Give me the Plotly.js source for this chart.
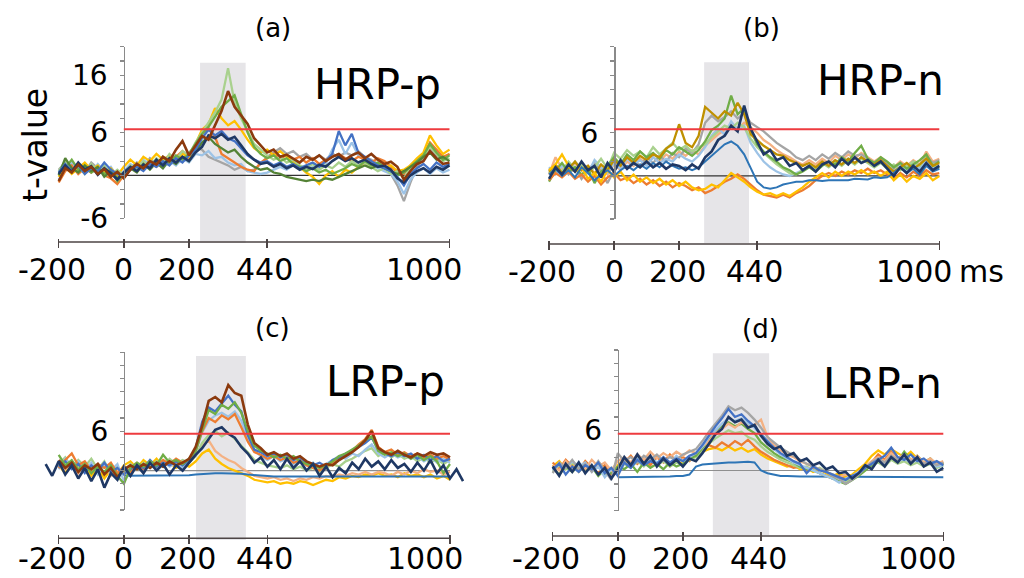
<!DOCTYPE html>
<html><head><meta charset="utf-8">
<script src="https://cdn.plot.ly/plotly-3.0.1.min.js"></script>
<style>html,body{margin:0;padding:0;background:#fff}#chart{width:1024px;height:578px}</style>
</head><body><div id="chart"></div>
<script>
// ---- time axes (ms) ----
const time = [-200,-180,-160,-140,-120,-100,-80,-60,-40,-20,0,20,40,60,80,100,120,140,160,180,200,220,240,260,280,300,320,340,360,380,400,420,440,460,480,500,520,540,560,580,600,620,640,660,680,700,720,740,760,780,800,820,840,860,880,900,920,940,960,980,1000];
const timeLong = [-240,-220,-200,-180,-160,-140,-120,-100,-80,-60,-40,-20,0,20,40,60,80,100,120,140,160,180,200,220,240,260,280,300,320,340,360,380,400,420,440,460,480,500,520,540,560,580,600,620,640,660,680,700,720,740,760,780,800,820,840,860,880,900,920,940,960,980,1000,1020,1040];
const timeFlat = [0,20,40,60,80,100,120,140,160,180,200,220,240,260,280,300,320,340,360,380,400,420,440,460,480,500,520,540,560,580,600,620,640,660,680,700,720,740,760,780,800,820,840,860,880,900,920,940,960,980,1000];

const xTickVals = [-200, 0, 200, 440, 1000];
const xTickText = ['-200', '0', '200', '440', '1000'];
const panelTitles = ['HRP-p', 'HRP-n', 'LRP-p', 'LRP-n'];
const panelLetters = ['(a)', '(b)', '(c)', '(d)'];
const bandA = [234, 374], bandB = [277, 415], bandC = [221, 374], bandD = [292, 465];
const thresholds = [6.45, 6.5, 5.6, 5.5];

// ---- (a) HRP-p ----
const aGray = [0.8,1.8,0.4,1.0,0.4,1.8,1.0,0.2,0.8,-0.6, 0.2,1.0,1.8,1.2,2.4,1.6,2.2,1.6,2.6,2.2, 3.2,4.0,3.6,2.6,2.2,1.8,1.4,0.8,1.2,0.6, 0.8,1.6,2.6,3.2,3.8,3.0,3.4,2.6,3.0,2.2, 2.8,2.2,3.0,2.6,3.2,2.8,3.4,2.6,2.2,1.6, 1.0,0.2,-1.4,-3.6,-1.0,1.2,2.4,3.6,2.8,2.2, 3.0];
const aLightBlue = [-0.6,0.8,1.8,0.6,1.4,0.4,1.6,0.6,1.2,-0.2, 0.6,1.6,1.0,2.2,1.4,1.8,1.0,2.0,1.4,2.4, 1.8,3.0,2.8,3.4,2.4,2.6,1.8,1.4,1.6,0.6, 0.4,0.2,0.4,0.8,1.2,0.8,1.4,1.0,0.6,1.2, 0.8,1.6,3.6,5.0,3.0,4.6,2.8,2.2,1.6,1.0, 0.6,0.2,-0.8,-2.6,-0.6,0.4,1.0,0.2,1.0,0.4, 0.8];
const aOrange = [-1.0,0.6,1.4,0.2,1.0,0.4,1.2,0.0,-0.4,-1.2, 0.0,0.8,1.4,0.8,1.8,1.2,2.2,1.6,2.6,3.4, 2.4,4.2,5.8,6.6,5.4,3.0,2.4,1.8,1.2,0.8, 0.6,1.8,2.4,3.0,2.4,2.8,2.2,2.6,1.8,2.4, 1.6,2.2,2.6,3.0,2.4,2.0,2.6,2.2,1.8,2.4, 2.0,1.2,0.4,0.2,1.4,2.2,3.0,4.6,3.6,2.6, 3.0];
const aGold = [-0.2,1.2,0.2,1.0,1.8,0.8,1.4,0.4,1.0,0.0, 1.2,2.2,1.4,2.6,2.0,3.0,2.2,2.8,2.0,3.0, 2.6,4.4,6.4,7.2,9.4,8.0,7.0,7.6,6.4,5.0, 3.8,3.2,3.6,2.8,3.4,2.6,2.0,1.2,0.4,-0.2, -1.2,0.0,0.6,-0.2,0.8,0.4,1.2,1.8,1.2,1.6, 1.0,1.4,0.6,0.8,1.4,2.4,3.2,5.6,4.2,3.0, 3.6];
const aLightGreen = [0.6,2.0,0.8,1.2,0.2,1.6,0.6,1.4,0.0,0.8, 0.0,1.4,0.8,2.0,1.2,2.4,1.6,3.0,2.2,3.4, 2.8,4.6,6.0,7.4,8.8,10.6,15.0,10.2,8.0,6.2, 4.4,3.6,2.8,2.2,2.6,1.8,2.2,1.4,1.0,1.6, 0.8,1.4,1.0,1.8,1.2,2.0,1.4,1.8,1.2,0.6, 1.0,0.2,0.6,-0.4,1.0,1.8,2.6,4.0,3.0,2.0, 2.4];
const aGreen = [0.4,1.0,2.2,0.8,1.2,0.4,1.0,0.2,0.8,-0.8, 0.2,0.8,1.6,1.0,2.0,1.4,2.6,1.8,2.8,2.2, 3.0,4.4,5.8,6.8,8.2,9.6,10.4,11.2,8.6,6.0, 4.0,3.0,2.4,2.8,2.0,2.4,1.6,1.2,0.6,1.0, 0.4,0.8,0.2,0.6,1.0,1.6,1.2,2.0,1.4,1.8, 1.2,0.6,0.0,0.4,1.2,2.0,2.8,4.4,3.2,2.2, 2.8];
const aDarkGreen = [0.0,2.4,1.0,0.4,1.4,0.6,1.2,-0.2,0.6,-0.4, 0.2,1.0,0.4,1.6,0.8,1.8,1.0,2.2,1.6,2.6, 2.0,3.4,4.6,5.4,4.4,3.8,3.2,3.6,2.6,1.8, 1.2,0.8,1.0,0.4,0.2,-0.2,-0.4,-0.6,-0.8,-0.6, -0.8,-0.4,-0.6,-0.2,0.2,0.6,1.0,1.4,1.0,1.4, 1.0,0.6,0.2,0.6,1.2,1.8,2.6,3.2,2.2,2.6, 2.0];
const aBlue = [0.4,1.6,0.6,1.4,0.2,1.0,0.6,1.8,0.8,0.2, -0.2,0.8,1.2,0.6,1.6,1.2,2.0,1.4,2.4,1.8, 2.8,3.6,5.2,6.4,5.6,6.2,5.2,4.8,3.8,2.8, 2.2,1.8,2.0,1.4,1.8,1.2,1.6,1.0,1.4,1.8, 1.2,2.0,3.0,6.2,4.2,5.8,3.2,2.6,2.0,1.4, 1.0,0.6,-0.2,-1.4,0.2,1.0,1.6,0.8,1.8,1.2, 1.6];
const aNavy = [0.2,1.4,0.5,1.8,0.8,1.3,0.1,1.0,0.3,-0.6, 0.4,1.2,0.6,1.5,1.0,2.2,1.4,2.4,1.8,2.6, 2.0,3.2,4.0,5.6,5.2,5.8,5.0,5.4,4.2,3.0, 2.2,1.6,1.8,1.2,1.6,1.0,1.4,0.8,1.2,0.9, 1.5,1.2,2.0,2.6,2.0,2.4,1.8,2.2,1.6,1.2, 1.4,0.8,-0.4,-1.0,0.0,0.6,1.0,0.4,1.2,0.8, 1.4];
const aBrown = [-0.8,1.0,0.4,1.5,0.6,1.2,0.2,0.9,-0.2,0.5, -0.4,0.8,1.6,1.0,2.0,1.5,2.6,2.0,3.6,4.8, 2.8,4.2,5.5,5.0,7.0,9.0,11.8,9.6,8.4,7.2, 5.2,4.2,3.2,3.6,2.6,2.9,2.4,1.8,2.6,2.2, 2.8,2.0,2.6,3.0,2.2,2.8,3.2,2.4,3.0,2.2, 1.6,1.9,1.2,-0.6,0.6,1.6,2.0,3.4,2.4,1.6, 1.8];

// ---- (b) HRP-n ----
const bLightOrange = [0.2,2.6,1.0,0.6,1.8,0.8,1.4,0.4,1.0,0.2, 1.6,0.8,2.0,1.4,2.4,1.6,2.6,2.0,3.0,2.4, 3.4,2.8,3.6,3.0,4.2,5.0,5.8,6.4,7.2,6.6, 7.4,6.8,6.0,5.0,4.4,3.6,3.0,2.6,2.0,1.6, 2.2,1.6,2.4,1.8,2.8,2.2,3.0,2.4,3.2,2.6, 2.0,2.6,1.8,1.2,2.0,1.4,2.2,1.6,3.4,2.0, 2.4];
const bGray = [1.0,0.4,1.6,0.2,1.2,-0.4,0.8,1.8,0.6,-1.0, 0.8,1.6,1.0,2.2,1.4,2.6,1.8,2.8,2.0,3.2, 2.6,3.8,3.2,4.4,7.4,8.4,7.6,8.2,9.0,8.0, 8.8,7.4,6.8,6.2,5.4,4.6,4.0,3.4,2.6,2.2, 2.8,2.2,3.0,2.4,3.2,2.6,3.4,2.8,3.0,2.4, 1.8,2.4,1.6,1.0,1.8,1.2,2.0,1.4,2.8,1.8, 2.2];
const bLightBlue = [1.2,0.2,1.4,0.8,2.0,1.0,0.4,2.2,1.2,0.4, 1.8,1.0,2.4,1.6,2.2,1.4,2.6,1.8,2.4,2.0, 3.0,2.4,2.0,2.8,4.0,5.6,6.6,5.8,7.6,6.4, 7.0,4.6,3.2,2.0,1.2,0.6,0.2,0.0,0.4,0.8, 1.4,1.0,1.8,1.4,2.2,1.6,2.4,1.8,2.6,2.0, 1.4,2.0,1.2,0.6,1.4,0.8,1.6,1.0,2.2,1.2, 1.6];
const bLightGreen = [0.4,1.4,0.6,2.0,1.0,1.6,0.4,1.2,2.4,1.0, 3.2,2.4,3.6,2.8,3.4,2.6,4.0,3.0,3.8,4.6, 3.6,4.2,3.4,4.0,4.4,5.4,6.2,7.0,6.6,7.4, 6.8,5.2,4.0,3.2,2.4,1.6,1.0,0.4,0.2,0.8, 1.4,1.0,1.8,1.2,2.0,1.4,2.2,1.6,2.4,1.8, 1.2,1.8,1.0,1.6,0.8,1.4,2.0,1.4,2.6,1.6, 1.0];
const bGreen = [-0.8,0.8,1.8,0.6,1.2,0.2,1.0,-1.0,0.6,1.4, 2.6,1.6,3.0,2.2,3.4,2.6,3.2,2.4,3.6,3.0, 4.0,3.4,2.8,3.6,4.8,6.4,7.0,8.0,11.2,8.6, 9.4,6.4,4.4,3.4,2.6,2.0,1.2,0.8,0.2,0.6, 1.2,0.6,1.4,2.0,1.6,2.6,2.0,3.2,4.2,2.4, 1.8,2.6,2.0,1.2,1.8,1.0,1.6,2.2,3.0,1.4, 2.0];
const bDarkGold = [0.6,1.6,0.4,1.0,2.0,0.8,1.4,0.2,1.6,0.8, 2.2,1.4,2.6,1.8,2.8,2.2,3.0,2.6,3.8,4.4, 7.2,4.6,4.0,5.6,9.6,8.8,8.0,9.0,8.4,10.2, 8.6,5.8,5.0,4.2,3.6,3.0,2.8,2.2,1.8,1.4, 1.8,1.2,2.0,1.4,2.2,1.6,2.4,1.8,2.6,2.0, 1.6,2.2,1.4,0.6,1.2,1.8,1.0,1.6,2.4,1.4, 1.8];
const bOrange = [-0.6,0.4,-0.2,0.6,-0.4,0.2,-0.8,0.0,-1.2,-0.2, 0.4,-0.6,-0.2,-1.0,-0.4,-1.2,-0.6,-1.4,-0.8,-1.6, -1.0,-1.4,-2.0,-1.6,-2.4,-2.0,-1.4,-0.8,-0.4,0.2, -0.4,-1.2,-2.0,-2.6,-2.8,-3.0,-2.6,-3.0,-2.4,-2.0, -1.4,-0.6,0.0,0.4,0.0,0.6,0.2,0.8,0.4,1.0, 0.4,0.8,0.2,-0.4,0.4,-0.2,0.6,0.0,0.8,0.2, 0.4];
const bYellow = [0.8,1.6,3.0,1.4,0.6,1.2,-0.4,0.4,-0.8,0.8, -0.2,0.6,-0.6,0.2,-0.8,-0.2,-1.0,-0.4,-1.2,-0.6, -1.4,-0.8,-1.6,-2.0,-1.8,-1.2,-1.6,-0.6,0.4,-0.2, -0.8,-1.6,-2.2,-2.6,-2.4,-2.8,-2.4,-2.8,-2.2,-1.6, -0.8,-0.2,0.4,-0.2,0.6,0.0,0.6,0.2,0.8,0.2, 0.6,0.0,0.6,-0.6,0.2,-0.8,0.0,-0.4,0.4,-0.6, 0.0];
const bSteelBlue = [0.2,1.0,0.0,0.8,-0.2,1.2,0.4,-0.6,0.2,0.8, 0.0,0.8,1.4,0.8,1.6,1.0,1.8,1.2,2.0,1.4, 1.0,1.2,0.8,1.2,2.0,2.8,3.6,4.4,4.8,4.2, 3.0,1.2,-0.8,-1.6,-1.8,-1.6,-1.2,-1.0,-0.8,-0.8, -0.6,-0.6,-0.7,-0.6,-0.6,-0.5,-0.6,-0.4,-0.4,-0.5, -0.2,-0.3,-0.2,0.4,1.2,0.4,1.0,0.2,1.4,0.6, 1.0];
const bNavy = [-0.4,1.2,0.2,1.6,0.6,2.0,0.8,1.4,-0.2,1.8, 0.6,2.2,1.0,1.8,1.2,2.0,1.2,1.8,1.0,1.6, 1.4,0.8,1.6,1.0,2.6,3.4,5.0,5.6,7.0,6.2, 9.8,6.6,4.8,3.0,3.6,2.2,2.6,1.4,1.8,0.8, 1.4,0.6,1.6,2.0,1.2,2.4,1.6,2.6,1.8,2.2, 1.4,2.0,1.0,0.0,1.2,0.4,1.4,0.6,1.8,0.8, 1.4];

// ---- (c) LRP-p ----
const cGold = [0.8,-0.4,1.2,0.0,0.6,-0.8,0.4,-1.2,0.2,-0.6, 0.8,1.4,0.4,1.6,0.8,1.8,0.6,1.2,0.4,1.0, 0.6,1.4,2.6,3.2,1.8,1.0,0.4,0.0,-0.4,-0.8, -1.4,-1.6,-1.8,-1.6,-2.0,-1.8,-2.0,-1.6,-1.8,-2.2, -1.8,-1.4,-1.6,-1.0,-1.2,-0.8,-1.0,-0.6,-0.8,-0.4, -0.8,-0.6,-1.0,-0.4,-0.8,-0.6,-1.0,-0.6,-1.2,-0.8, -1.4];
const cLightOrange = [1.4,0.2,1.0,-0.4,1.2,0.4,-0.2,0.8,-0.8,0.2, -0.2,0.6,1.2,0.2,1.0,0.4,1.4,0.8,1.6,0.6, 1.2,2.4,3.8,4.6,3.0,2.2,1.6,1.2,0.4,-0.2, -0.8,-1.0,-1.2,-1.0,-1.4,-1.2,-1.6,-1.2,-1.4,-1.0, -1.2,-0.8,-1.0,-0.6,-0.8,-0.4,-0.6,-0.2,-0.6,-0.2, -0.4,-0.8,-0.2,-0.6,0.0,-0.4,0.2,-0.2,0.0,-0.6, -0.2];
const cSteelBlue = [-0.8,-0.8,-0.7,-0.8,-0.8,-0.7,-0.8,-0.8,-0.7,-0.8, -0.7,-0.6,-0.5,-0.5,-0.4,-0.4,-0.4,-0.5,-0.5,-0.6, -0.7,-0.8,-0.8,-0.9,-0.9,-0.9,-0.9,-0.9,-0.9,-0.9, -0.9,-0.9,-0.9,-0.9,-0.9,-0.9,-0.9,-0.9,-0.9,-0.9, -0.9,-0.9,-0.9,-0.9,-0.9,-0.9,-0.9,-0.9,-0.9,-0.9, -0.9];
const cLightGreen = [1.0,2.0,0.4,1.6,0.6,1.8,0.2,1.4,-0.6,0.6, -0.4,1.0,0.2,1.2,0.4,1.4,0.6,1.8,1.0,1.6, 1.2,2.2,4.2,5.4,6.0,5.2,5.8,4.8,3.8,2.8, 1.6,1.2,0.8,0.6,0.4,0.8,0.2,0.6,0.0,0.4, -0.2,0.4,1.0,0.6,1.4,1.8,2.4,3.0,3.4,2.2, 2.8,2.0,2.6,1.8,2.2,1.4,2.0,1.2,1.8,1.0, 1.6];
const cLightBlue = [0.2,1.8,0.6,1.4,0.0,1.2,-0.6,0.8,0.0,1.0, -1.6,0.0,0.8,-0.2,1.0,0.2,1.4,0.6,1.2,0.4, 1.4,2.8,5.8,7.6,8.4,8.8,8.2,9.0,7.6,4.8, 3.0,2.2,1.6,2.2,1.4,1.8,1.0,1.6,0.8,1.2, 0.4,1.0,1.6,2.2,1.8,2.6,2.2,3.2,4.0,2.6, 2.0,2.6,2.0,2.4,1.8,2.2,1.4,2.0,1.2,1.8, 1.2];
const cOrange = [0.4,1.6,2.6,0.8,1.4,0.0,1.0,0.4,1.2,-0.4, 0.6,-0.2,0.8,0.2,1.2,0.6,1.6,1.0,1.8,1.2, 1.6,3.0,6.0,8.0,7.4,8.4,7.8,8.6,6.6,4.4, 2.8,2.4,1.8,2.2,1.6,2.0,1.2,1.6,0.8,0.4, 0.0,0.6,1.2,1.8,2.4,3.0,4.0,4.8,6.2,3.6, 2.8,3.2,2.4,2.8,2.2,2.6,2.0,2.4,1.8,2.2, 1.6];
const cBlue = [0.6,1.4,0.2,1.0,-0.4,0.8,0.0,1.2,-0.2,0.4, -0.6,0.2,1.0,0.4,1.6,0.6,1.2,0.8,1.4,0.8, 1.6,3.4,7.4,9.6,9.0,10.2,11.4,10.0,9.0,5.4, 3.2,2.8,2.2,2.6,2.0,2.4,1.6,2.0,1.2,0.8, 1.2,0.6,1.6,2.0,2.6,3.0,3.6,4.2,5.0,3.2, 2.6,2.2,2.8,2.2,2.6,1.8,2.4,1.6,2.2,1.4, 1.8];
const cGreen = [2.4,0.8,1.6,0.2,1.0,-0.4,0.6,-0.2,0.8,-0.8, -2.0,0.4,1.2,0.6,1.4,0.8,2.4,1.2,1.6,1.0, 1.8,3.0,6.2,9.2,8.6,10.0,9.4,10.4,8.8,6.0, 3.8,3.0,2.6,2.0,2.4,1.8,2.2,1.4,1.0,0.8, 0.4,0.8,1.4,2.2,2.6,3.2,3.8,4.6,5.2,3.0, 2.4,2.8,2.2,2.6,1.8,2.4,1.6,2.2,1.4,-0.4, 1.0];
const cBrown = [1.6,0.4,1.2,-0.2,0.8,0.2,1.0,-0.6,0.4,-1.0, 0.2,0.8,0.2,1.0,0.4,1.2,0.6,1.4,0.8,1.2, 1.8,3.6,6.8,10.6,11.2,10.4,13.0,11.8,11.4,7.0, 4.2,3.4,2.4,2.8,2.2,2.6,1.8,2.2,1.4,1.0, 0.6,1.0,0.8,1.6,2.2,2.8,3.6,4.6,6.0,3.4, 2.8,2.4,3.0,2.4,2.0,2.6,2.2,2.8,2.4,2.6, 2.0];
const cNavy = [1.0,-0.8, 1.4,-0.6,0.8,-1.2,0.4,-1.6,0.2,-2.6,-0.4,-1.4, 0.6,-0.8,0.8,-0.4,1.2,0.0,1.0,-0.6,0.8,0.0, 1.2,2.4,3.4,4.8,6.2,6.6,5.6,5.0,3.6,2.6, 1.2,2.0,0.6,1.6,0.2,1.8,0.4,1.4,0.0,1.0, -0.8,0.6,-1.0,0.4,-0.4,1.2,0.2,1.8,0.6,1.4, 0.2,1.6,0.4,1.0,-0.2,1.2,0.0,1.6,-0.4,0.8, -1.2, 0.2,-1.6];

// ---- (d) LRP-n ----
const dSteelBlue = [-1.0,-1.0,-0.9,-1.0,-1.0,-0.9,-1.0,-0.9,-0.9,-0.8, -0.8,-0.6,0.6,0.9,1.0,1.0,1.1,1.2,1.2,1.3, 1.3,1.2,0.0,-0.4,-0.6,-0.8,-0.8,-0.9,-0.9,-0.9, -0.9,-0.9,-1.0,-1.0,-1.0,-1.0,-1.0,-0.9,-0.9,-0.9, -0.9,-0.9,-0.9,-0.9,-0.9,-0.9,-1.0,-1.0,-1.0,-1.0, -1.0];
const dGold = [0.6,1.4,0.2,1.0,-0.2,0.8,0.2,1.2,0.4,-0.6, 0.8,1.6,0.8,2.0,1.2,1.8,0.8,1.6,0.6,1.4, 1.0,1.6,2.2,2.8,3.2,3.4,3.0,3.6,3.0,3.4, 2.8,3.2,2.4,1.8,1.4,1.0,0.6,0.8,0.2,0.4, -0.2,0.2,-0.4,-0.8,-0.4,-1.0,-0.6,0.2,1.0,2.2, 3.0,2.4,3.2,2.6,2.0,2.8,1.8,1.0,1.6,0.6, 1.0];
const dOrange = [1.2,0.2,1.6,0.6,0.0,1.4,0.4,-0.4,0.8,-1.0, 0.4,1.2,2.2,1.0,1.8,0.8,2.0,1.2,2.4,1.4, 2.0,1.4,2.4,3.0,3.8,3.4,4.2,3.6,4.4,3.8, 4.6,3.6,2.8,2.2,1.6,1.2,0.8,0.4,0.6,0.0, 0.2,-0.4,-0.8,-1.2,-0.8,-1.4,-1.0,-0.4,0.4,1.2, 2.4,1.6,2.8,1.8,2.2,1.4,2.0,1.0,1.6,0.8, 1.2];
const dLightGreen = [-0.2,0.8,0.2,1.2,0.4,1.0,0.0,0.8,-0.6,0.4, 0.0,1.0,0.4,1.4,0.6,1.6,0.8,1.4,0.6,1.2, 0.8,1.6,2.0,3.0,4.0,4.8,5.4,6.0,5.6,5.8, 5.0,4.6,3.6,2.8,2.2,1.6,1.2,0.8,0.4,0.6, 0.0,0.4,-0.2,-0.6,-1.0,-1.6,-1.2,-0.6,0.2,0.8, 1.2,0.6,1.6,1.0,1.4,0.8,1.2,0.6,1.0,0.4, 0.8];
const dGreen = [0.4,-0.6,0.6,-0.2,0.8,0.0,0.6,-0.8,0.2,-0.4, 0.6,0.2,1.0,-0.2,1.2,0.4,1.0,0.2,1.2,0.6, 1.0,1.8,2.2,3.4,4.6,5.8,6.6,7.2,6.6,7.0, 6.2,5.6,4.2,3.4,2.6,2.0,1.6,1.2,0.6,0.2, 0.0,-0.4,-0.8,-1.2,-1.6,-2.0,-1.4,-0.8,0.0,0.8, 1.6,1.0,2.0,1.4,2.8,1.6,2.2,1.2,1.8,0.8, 1.2];
const dLightOrange = [0.8,0.0,1.4,0.4,1.0,0.2,1.6,0.6,1.2,0.0, 1.4,2.0,1.2,2.4,1.6,2.8,1.8,2.6,2.0,2.8, 2.2,3.0,2.6,3.6,4.4,5.6,6.2,7.0,6.4,7.2, 6.6,6.8,7.6,5.0,3.8,3.0,2.4,2.0,1.4,1.0, 0.6,0.2,-0.2,-0.6,-1.0,-0.6,-1.0,-0.2,0.6,1.4, 2.0,1.4,2.6,1.8,2.4,1.6,2.2,1.2,1.8,1.0, 1.4];
const dLightBlue = [0.0,1.0,0.4,1.4,0.6,1.2,-0.2,0.6,-1.0,0.2, -0.4,1.2,0.6,1.8,1.0,2.0,1.2,1.8,1.0,2.2, 1.4,2.0,2.6,3.6,5.0,6.0,7.0,7.8,7.4,7.8, 7.0,6.4,5.2,4.0,3.2,2.4,1.8,1.2,0.8,0.4, 0.0,-0.4,-0.8,-1.2,-1.8,-1.2,-0.8,-0.2,0.4,1.0, 1.6,1.0,2.0,1.4,1.8,1.2,1.6,0.8,1.2,0.6, 0.8];
const dGray = [-0.4,1.2,0.4,1.6,0.2,1.0,-0.2,1.4,0.0,-1.4, 2.6,1.4,2.0,1.2,2.2,1.6,2.4,1.4,2.0,1.6, 2.4,2.8,3.2,4.4,5.8,7.0,8.2,9.6,9.0,9.4, 8.6,7.6,6.4,5.0,4.2,3.4,2.8,2.2,1.6,1.0, 0.6,0.2,-0.2,-0.8,-1.2,-2.0,-1.4,-0.6,0.4,1.2, 1.8,1.2,2.2,1.6,2.0,1.4,1.8,1.0,1.4,0.8, 1.2];
const dBlue = [0.2,1.0,-0.6,0.6,-0.2,0.8,0.2,1.2,-0.4,0.4, -0.8,1.2,0.4,1.6,0.8,1.4,1.0,2.0,1.2,1.8, 1.4,2.2,2.6,3.8,5.2,6.6,7.8,9.2,8.0,8.4, 7.4,6.6,5.4,4.4,3.4,2.6,2.0,1.4,1.0,-0.4, 0.6,0.0,-0.2,-0.6,-1.0,-1.4,-0.8,-0.4,0.4,1.0, 1.6,2.2,3.4,2.0,1.6,2.4,1.4,1.8,1.0,1.4, 0.8];
const dNavy = [0.6,-0.8,1.0,-0.2,1.2,-0.4,0.8,-0.6,0.4,-1.2, 0.2,2.0,0.8,2.4,1.0,2.2,0.6,1.8,0.8,1.6, 0.6,1.8,1.4,2.6,4.0,5.4,6.2,8.0,7.2,7.6, 6.4,6.8,5.2,4.0,3.2,3.6,2.2,2.6,1.4,1.8, 0.8,1.2,0.2,0.6,-0.4,-0.2,-1.2,-0.4,0.8,0.2, 1.6,0.6,2.0,1.2,2.4,1.0,2.0,0.6,1.2,-0.2, 0.4];

// ---- styling ----
const C = {navy:'#1F3864', brown:'#8B3A0E', darkgreen:'#548235', green:'#70AD47', lightgreen:'#A9D18E',
  lightblue:'#9DC3E6', blue:'#4472C4', steelblue:'#2E75B6', gold:'#FFC000', darkgold:'#BF9000',
  orange:'#ED7D31', lightorange:'#F4B183', gray:'#A5A5A5'};

const panels = [
  {xa:'x', ya:'y', series:[[time,aGray,'gray'],[time,aLightBlue,'lightblue'],[time,aOrange,'orange'],[time,aGold,'gold'],[time,aLightGreen,'lightgreen'],[time,aGreen,'green'],[time,aDarkGreen,'darkgreen'],[time,aBlue,'blue'],[time,aNavy,'navy'],[time,aBrown,'brown']]},
  {xa:'x2', ya:'y2', series:[[time,bLightOrange,'lightorange'],[time,bGray,'gray'],[time,bLightBlue,'lightblue'],[time,bLightGreen,'lightgreen'],[time,bGreen,'green'],[time,bDarkGold,'darkgold'],[time,bOrange,'orange'],[time,bYellow,'gold'],[time,bSteelBlue,'steelblue'],[time,bNavy,'navy']]},
  {xa:'x3', ya:'y3', series:[[time,cGold,'gold'],[time,cLightOrange,'lightorange'],[timeFlat,cSteelBlue,'steelblue'],[time,cLightGreen,'lightgreen'],[time,cLightBlue,'lightblue'],[time,cOrange,'orange'],[time,cBlue,'blue'],[time,cGreen,'green'],[time,cBrown,'brown'],[timeLong,cNavy,'navy']]},
  {xa:'x4', ya:'y4', series:[[timeFlat,dSteelBlue,'steelblue'],[time,dGold,'gold'],[time,dOrange,'orange'],[time,dLightGreen,'lightgreen'],[time,dGreen,'green'],[time,dLightOrange,'lightorange'],[time,dLightBlue,'lightblue'],[time,dGray,'gray'],[time,dBlue,'blue'],[time,dNavy,'navy']]}
];

const traces = [];
panels.forEach(p => p.series.forEach(([xs, ys, c]) => {
  const w = (c==='navy'||c==='brown') ? 2.6 : (c==='steelblue' ? 2.0 : 2.3);
  traces.push({type:'scatter', mode:'lines', x:xs, y:ys, xaxis:p.xa, yaxis:p.ya,
    line:{color:C[c], width:w}, hoverinfo:'skip', showlegend:false});
}));

const FONT = 'DejaVu Sans';
const AX = '#4d4545', YAX = '#8a8a8a';
// geometry per panel (paper fractions)
const geo = [
  {xd:[0.04143,0.45486], yd:[0.62232,0.91920], ypos:0.12090, xpos:0.58910, line:0.58131, lab:0.53460, lanc:'middle', band:bandA, by:[0.57958,0.89152]},
  {xd:[0.52025,0.93317], yd:[0.62111,0.91920], ypos:0.59961, xpos:0.58564, line:0.57785, lab:0.53114, lanc:'middle', band:bandB, by:[0.57958,0.89221]},
  {xd:[0.04141,0.45537], yd:[0.11765,0.39048], ypos:0.12100, xpos:0.07647, line:0.06869, lab:0.0, lanc:'bottom', band:bandC, by:[0.06574,0.38408]},
  {xd:[0.52385,0.93709], yd:[0.11644,0.39446], ypos:0.60332, xpos:0.08045, line:0.07266, lab:0.0, lanc:'bottom', band:bandD, by:[0.07439,0.38875]}
];
const ids = ['', '2', '3', '4'];
const layout = {width:1024, height:578, margin:{l:0,r:0,t:0,b:0}, paper_bgcolor:'#fff', plot_bgcolor:'rgba(0,0,0,0)',
  showlegend:false, font:{family:FONT, color:'#000'}, shapes:[], annotations:[]};
const labShift = [-7, 0, -2, -3, -25];
geo.forEach((g, i) => {
  const xk = 'xaxis'+ids[i], yk = 'yaxis'+ids[i], xr = 'x'+ids[i], yr = 'y'+ids[i];
  layout[xk] = {domain:g.xd, range:[-250,1050], anchor:'free', position:g.xpos, showline:false, showgrid:false, zeroline:false,
    tickmode:'array', tickvals:xTickVals, ticks:'outside', ticklen:9, tickwidth:1.5, tickcolor:AX, showticklabels:false, fixedrange:true};
  const yt = i===0 ? [-6, 6] : [6];
  layout[yk] = {domain:g.yd, range:[-6,18], anchor:'free', position:g.ypos, side:'left', showline:true, linecolor:YAX, linewidth:1.5,
    showgrid:false, zeroline:false, tickmode:'array', tickvals:yt, ticktext:yt.map(String), ticks:'outside', ticklen:4, tickwidth:1.2,
    tickcolor:YAX, tickfont:{family:FONT, size:28, color:'#000'}, ticklabelstandoff:6,
    minor:{dtick:2, tick0:0, ticks:'outside', ticklen:4, tickwidth:1.2, tickcolor:YAX}, fixedrange:true};
  layout.shapes.push({type:'rect', xref:xr, yref:'paper', x0:g.band[0], x1:g.band[1], y0:g.by[0], y1:g.by[1], fillcolor:'#E6E5E8', line:{width:0}, layer:'below'});
  layout.shapes.push({type:'line', xref:xr, yref:yr, x0:0, x1:1000, y0:0, y1:0, line:{color: i<2 ? '#333333' : '#8f8f8f', width:1.2}, layer:'below'});
  layout.shapes.push({type:'line', xref:xr, yref:'paper', x0:-200, x1:1000, y0:g.line, y1:g.line, line:{color:AX, width:1.5}});
  layout.shapes.push({type:'line', xref:xr, yref:yr, x0:0, x1:1000, y0:thresholds[i], y1:thresholds[i], line:{color:'#EE3B3F', width:2}});
  xTickVals.forEach((v, k) => {
    layout.annotations.push({xref:xr, yref:'paper', x:v, y:g.lab, xanchor:'center', yanchor:g.lanc, xshift:labShift[k],
      text:xTickText[k], showarrow:false, font:{family:FONT, size:30, color:'#000'}});
  });
});
// titles and labels
const titlePos = [[0.36914,0.85300],[0.85938,0.86000],[0.37598,0.34000],[0.86133,0.33700]];
panelTitles.forEach((t, i) => layout.annotations.push({xref:'paper', yref:'paper', x:titlePos[i][0], y:titlePos[i][1], xanchor:'center', yanchor:'middle',
  text:t, showarrow:false, font:{family:FONT, size:42, color:'#000'}}));
const letterPos = [[0.26660,0.95156],[0.74414,0.95156],[0.26563,0.43253],[0.74219,0.43080]];
panelLetters.forEach((t, i) => layout.annotations.push({xref:'paper', yref:'paper', x:letterPos[i][0], y:letterPos[i][1], xanchor:'center', yanchor:'middle',
  text:t, showarrow:false, font:{family:FONT, size:26, color:'#000'}}));
layout.annotations.push({xref:'paper', yref:'y', x:0.10742, y:14, xanchor:'right', yanchor:'middle', text:'16', showarrow:false, font:{family:FONT, size:28, color:'#000'}});
layout.annotations.push({xref:'paper', yref:'paper', x:0.03418, y:0.74913, xanchor:'center', yanchor:'middle', textangle:-90, text:'t-value', showarrow:false, font:{family:FONT, size:33, color:'#000'}});
layout.annotations.push({xref:'paper', yref:'paper', x:0.95898, y:0.53114, xanchor:'center', yanchor:'middle', text:'ms', showarrow:false, font:{family:FONT, size:30, color:'#000'}});

Plotly.newPlot('chart', traces, layout, {displayModeBar:false, staticPlot:true});
</script></body></html>
